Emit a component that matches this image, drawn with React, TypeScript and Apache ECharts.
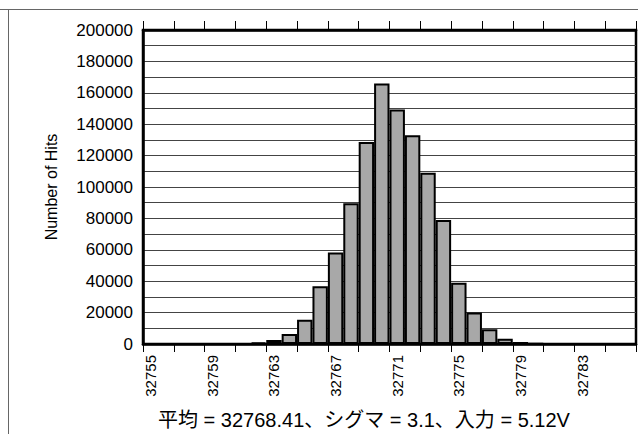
import React, { useEffect, useRef } from "react";
import * as echarts from "echarts";

// Histogram bins (code values) and hit counts
const binValues: number[] = [
  32755, 32756, 32757, 32758, 32759, 32760, 32761, 32762, 32763, 32764, 32765,
  32766, 32767, 32768, 32769, 32770, 32771, 32772, 32773, 32774, 32775, 32776,
  32777, 32778, 32779, 32780, 32781, 32782, 32783, 32784, 32785, 32786,
];
const hitCounts: number[] = [
  0, 0, 0, 0, 0, 0, 0, 900, 2500, 6400, 15400,
  36800, 58300, 89700, 128700, 166000, 149300, 133000, 109000, 79000, 39000, 20000,
  9400, 3300, 1300, 300, 0, 0, 0, 0, 0, 0,
];
const yAxisTitle = "Number of Hits";
const captionText = "平均 = 32768.41、シグマ = 3.1、入力 = 5.12V";

const FONT = "'Liberation Sans', Arial, 'Noto Sans CJK JP', sans-serif";

export default function App() {
  const ref = useRef<HTMLDivElement>(null);
  useEffect(() => {
    if (!ref.current) return;
    const chart = echarts.init(ref.current, undefined, { renderer: "svg" });
    const cats = binValues.map(String);
    chart.setOption({
      animation: false,
      backgroundColor: "#fff",
      textStyle: { fontFamily: FONT },
      grid: {
        left: 143,
        right: 2,
        top: 30,
        bottom: 90,
        show: true,
        borderColor: "#000",
        borderWidth: 2.5,
        backgroundColor: "transparent",
      },
      xAxis: [
        {
          type: "category",
          data: cats,
          position: "bottom",
          boundaryGap: true,
          axisLine: { lineStyle: { color: "#000", width: 2.5 } },
          axisTick: { show: true, interval: 1, length: 8, lineStyle: { color: "#000", width: 1 } },
          axisLabel: {
            interval: 3,
            rotate: 90,
            margin: 11,
            fontSize: 15,
            color: "#000",
            fontFamily: FONT,
          },
          splitLine: { show: false },
        },
        {
          type: "category",
          data: cats,
          position: "top",
          boundaryGap: true,
          axisLine: { lineStyle: { color: "#000", width: 2.5 } },
          axisTick: { show: true, interval: 1, length: 9, lineStyle: { color: "#000", width: 1 } },
          axisLabel: { show: false },
          splitLine: { show: false },
        },
      ],
      yAxis: {
        type: "value",
        min: 0,
        max: 200000,
        interval: 10000,
        name: yAxisTitle,
        nameLocation: "middle",
        nameGap: 84,
        nameRotate: 90,
        nameTextStyle: { fontSize: 16, color: "#000", fontFamily: FONT },
        axisLine: { show: true, lineStyle: { color: "#000", width: 2.5 } },
        axisTick: { show: false },
        axisLabel: {
          fontSize: 17,
          color: "#000",
          margin: 10,
          fontFamily: FONT,
          formatter: (v: number) => (v % 20000 === 0 ? String(v) : ""),
        },
        splitLine: { show: true, lineStyle: { color: "#444", width: 1 } },
      },
      series: [
        {
          type: "bar",
          xAxisIndex: 0,
          data: hitCounts,
          barWidth: "100%",
          barCategoryGap: 0,
          itemStyle: { color: "#a8a8a8", borderColor: "#000", borderWidth: 2 },
          emphasis: { disabled: true },
        },
      ],
      graphic: [
        {
          type: "line",
          shape: { x1: 0, y1: 9.5, x2: 638, y2: 9.5 },
          style: { stroke: "#666", lineWidth: 1 },
        },
        {
          type: "line",
          shape: { x1: 8.5, y1: 9.5, x2: 8.5, y2: 434 },
          style: { stroke: "#666", lineWidth: 1 },
        },
        {
          type: "text",
          x: 364,
          y: 420,
          style: {
            text: captionText,
            fontSize: 20,
            fill: "#000",
            fontFamily: FONT,
            textAlign: "center",
            textVerticalAlign: "middle",
          },
        },
      ],
    });
    return () => chart.dispose();
  }, []);
  return (
    <div
      ref={ref}
      style={{ position: "absolute", left: 0, top: 0, width: 638, height: 434 }}
    />
  );
}
